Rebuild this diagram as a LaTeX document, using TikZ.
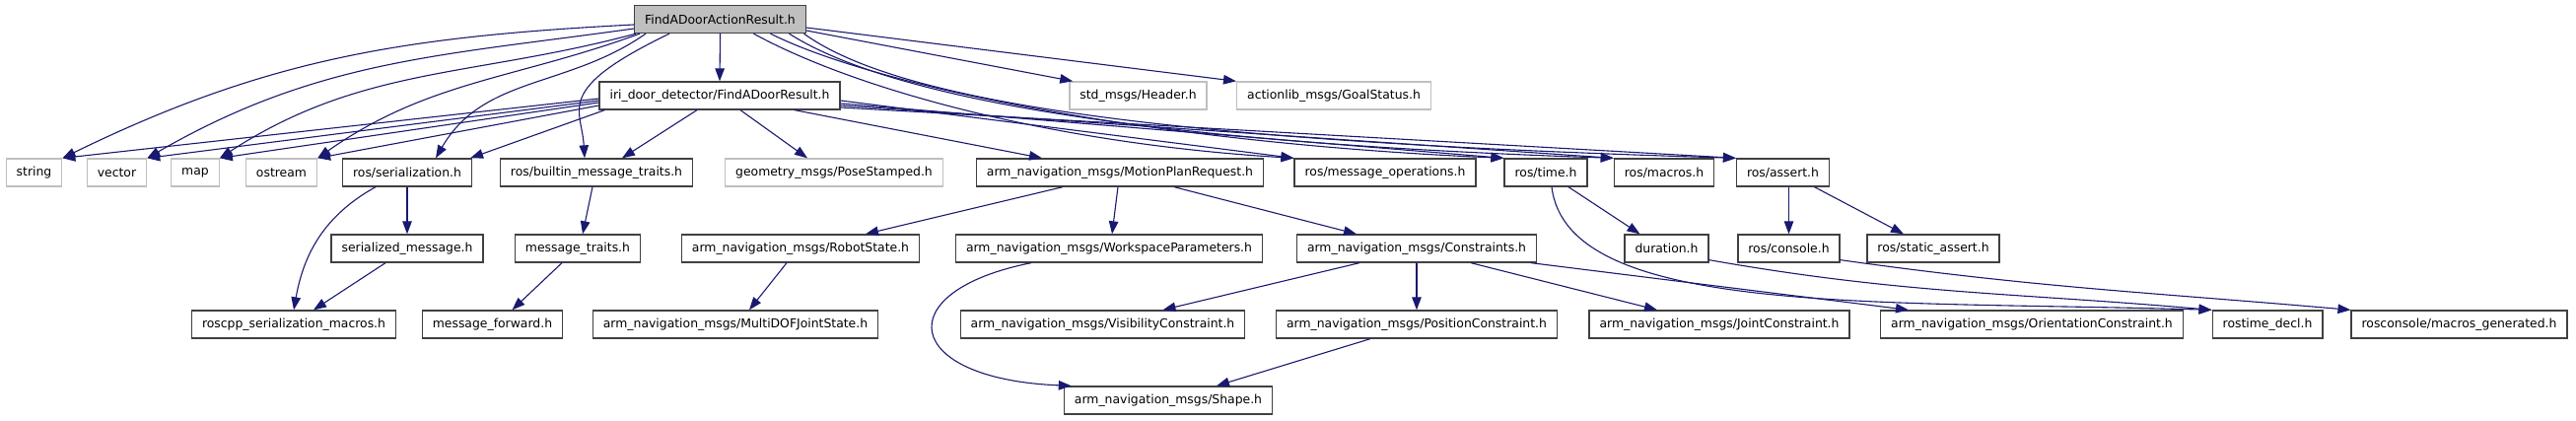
\documentclass[tikz,border=0pt]{standalone}
\usepackage{fontspec}
\setmainfont{DejaVu Sans}
\usetikzlibrary{arrows.meta}
\usetikzlibrary{calc}
\definecolor{midnight}{HTML}{191970}
\definecolor{boxgray}{HTML}{BFBFBF}
\definecolor{boxline}{HTML}{404040}

\begin{document}
\begin{tikzpicture}
	[
	x=1pt, y=1pt,
	> = {Triangle[length=13pt,width=9.5pt]},
	every node/.style={font=\fontsize{12.4}{15}\selectfont},
	hfile/.style = {draw=boxline,line width=1.3pt,fill=white,inner xsep=10.5pt,inner ysep=0pt,minimum height=28pt},
	sysfile/.style = {hfile,draw=boxgray},
	rootfile/.style = {hfile,fill=boxgray},
	dep/.style = {->,draw=midnight,line width=1.1pt}
	]
	\useasboundingbox (0,0) rectangle (2613,-427);

	\node[rootfile] (root) at (730.5,-19.5) {FindADoorActionResult.h};

	\node[hfile] (iri) at (730,-97) {iri\_door\_detector/FindADoorResult.h};
	\node[sysfile] (header) at (1154.5,-97) {std\_msgs/Header.h};
	\node[sysfile] (goal) at (1353,-97) {actionlib\_msgs/GoalStatus.h};

	\node[sysfile] (string) at (34.5,-175) {string};
	\node[sysfile] (vector) at (118.5,-175) {vector};
	\node[sysfile] (map) at (198,-175) {map};
	\node[sysfile] (ostream) at (285.5,-175) {ostream};
	\node[hfile] (ser) at (413,-175) {ros/serialization.h};
	\node[hfile] (builtin) at (605,-175) {ros/builtin\_message\_traits.h};
	\node[sysfile] (pose) at (846,-175) {geometry\_msgs/PoseStamped.h};
	\node[hfile] (mpr) at (1136,-175) {arm\_navigation\_msgs/MotionPlanRequest.h};
	\node[hfile] (msgops) at (1405,-175) {ros/message\_operations.h};
	\node[hfile] (time) at (1568,-175) {ros/time.h};
	\node[hfile] (macros) at (1688,-175) {ros/macros.h};
	\node[hfile] (assert) at (1808.5,-175) {ros/assert.h};

	\node[hfile] (sermsg) at (413,-252) {serialized\_message.h};
	\node[hfile] (traits) at (586,-252) {message\_traits.h};
	\node[hfile] (robot) at (812,-252) {arm\_navigation\_msgs/RobotState.h};
	\node[hfile] (wsp) at (1125,-252) {arm\_navigation\_msgs/WorkspaceParameters.h};
	\node[hfile] (cons) at (1437,-252) {arm\_navigation\_msgs/Constraints.h};
	\node[hfile] (dur) at (1690.5,-252) {duration.h};
	\node[hfile] (console) at (1814.5,-252) {ros/console.h};
	\node[hfile] (sassert) at (1961,-252) {ros/static\_assert.h};

	\node[hfile] (sermac) at (298,-329) {roscpp\_serialization\_macros.h};
	\node[hfile] (fwd) at (499.5,-329) {message\_forward.h};
	\node[hfile] (multidof) at (746,-329) {arm\_navigation\_msgs/MultiDOFJointState.h};
	\node[hfile] (vis) at (1118.5,-329) {arm\_navigation\_msgs/VisibilityConstraint.h};
	\node[hfile] (pos) at (1437,-329) {arm\_navigation\_msgs/PositionConstraint.h};
	\node[hfile] (joint) at (1744,-329) {arm\_navigation\_msgs/JointConstraint.h};
	\node[hfile] (orient) at (2061,-329) {arm\_navigation\_msgs/OrientationConstraint.h};
	\node[hfile] (tdecl) at (2300,-329) {rostime\_decl.h};
	\node[hfile] (mgen) at (2494.5,-329) {rosconsole/macros\_generated.h};

	\node[hfile] (shape) at (1185,-406) {arm\_navigation\_msgs/Shape.h};

	\draw[dep] (root.south) -- (iri.north);
	\draw[dep] ($(root.east)+(0,-11.5)$) -- ($(header.north west)+(4,0)$);
	\draw[dep] ($(root.east)+(0,-8.5)$) -- (goal.north west);
	\draw[dep] ($(root.west)+(0,-5.5)$) to[out=183,in=26] (string.north east);
	\draw[dep] ($(root.west)+(0,-9.5)$) to[out=188,in=30] (vector.north east);
	\draw[dep] ($(root.south west)+(2,0)$) to[out=195,in=33] (map.north east);
	\draw[dep] ($(root.south west)+(6,0)$) to[out=200,in=35] (ostream.north east);
	\draw[dep] ($(root.south west)+(12,0)$) to[out=215,in=60] ($(ser.north)+(29,0)$);
	\draw[dep] ($(root.south west)+(36,0)$) .. controls +(-118,-57) and +(-3,51) .. ($(builtin.north)+(-12,0)$);
	\draw[dep] ($(root.south)+(34,0)$) .. controls +(100,-55) and +(-250,15) .. (msgops.north west);
	\draw[dep] ($(root.south)+(51,0)$) .. controls +(110,-55) and +(-350,15) .. (time.north west);
	\draw[dep] ($(root.south)+(70,0)$) .. controls +(110,-70) and +(-450,15) .. (macros.north west);
	\draw[dep] ($(root.south)+(85,0)$) .. controls +(110,-80) and +(-500,15) .. (assert.north west);

	\draw[dep] ($(iri.west)+(0,-3)$) -- (string.north east);
	\draw[dep] ($(iri.west)+(0,-5)$) -- (vector.north east);
	\draw[dep] ($(iri.west)+(0,-7)$) -- (map.north east);
	\draw[dep] ($(iri.west)+(0,-10)$) -- (ostream.north east);
	\draw[dep] ($(iri.south west)+(6,0)$) -- ($(ser.north east)+(-2,0)$);
	\draw[dep] ($(iri.south)+(-23,0)$) -- ($(builtin.north)+(26,0)$);
	\draw[dep] ($(iri.south)+(21,0)$) -- ($(pose.north)+(-27,0)$);
	\draw[dep] ($(iri.south)+(76,0)$) -- ($(mpr.north)+(-79,0)$);
	\draw[dep] ($(iri.east)+(0,-5)$) -- (msgops.north west);
	\draw[dep] ($(iri.east)+(0,-8)$) -- (time.north west);
	\draw[dep] ($(iri.east)+(0,-10)$) -- (macros.north west);
	\draw[dep] ($(iri.east)+(0,-12)$) -- (assert.north west);

	\draw[dep] (ser.south) -- (sermsg.north);
	\draw[dep] ($(ser.south)+(-32,0)$) to[out=209,in=80] (sermac.north);
	\draw[dep] ($(sermsg.south)+(-22,0)$) -- ($(sermac.north)+(20,0)$);
	\draw[dep] ($(builtin.south)+(-4,0)$) -- ($(traits.north)+(5,0)$);
	\draw[dep] ($(traits.south)+(-16,0)$) -- ($(fwd.north)+(20,0)$);

	\draw[dep] ($(mpr.south)+(-58,0)$) -- ($(robot.north)+(66,0)$);
	\draw[dep] ($(mpr.south)+(-2,0)$) -- ($(wsp.north)+(3,0)$);
	\draw[dep] ($(mpr.south)+(55,0)$) -- ($(cons.north)+(-61,0)$);
	\draw[dep] ($(robot.south)+(-14,0)$) -- ($(multidof.north)+(14,0)$);
	\draw[dep] ($(wsp.south)+(-79,0)$) .. controls +(-146,-29) and +(-172,7) .. ($(shape.north west)+(8,0)$);
	\draw[dep] ($(cons.south)+(-58,0)$) -- ($(vis.north)+(61,0)$);
	\draw[dep] (cons.south) -- (pos.north);
	\draw[dep] ($(cons.south)+(55,0)$) -- ($(joint.north)+(-63,0)$);
	\draw[dep] ($(cons.south)+(116,0)$) -- ($(orient.north)+(-125,0)$);
	\draw[dep] ($(pos.south)+(-47,0)$) -- ($(shape.north)+(49,0)$);

	\draw[dep] ($(time.south)+(23,0)$) -- ($(dur.north)+(-27,0)$);
	\draw[dep] ($(time.south)+(6,0)$) .. controls +(16,-131) and +(-345,10) .. (tdecl.north west);
	\draw[dep] ($(dur.south east)+(0,3)$) to[out=-10,in=175] (tdecl.north west);
	\draw[dep] ($(assert.south)+(6,0)$) -- (console.north);
	\draw[dep] ($(assert.south)+(32,0)$) -- ($(sassert.north)+(-30,0)$);
	\draw[dep] ($(console.south east)+(0,3)$) to[out=-8,in=175] (mgen.north west);
\end{tikzpicture}
\end{document}
